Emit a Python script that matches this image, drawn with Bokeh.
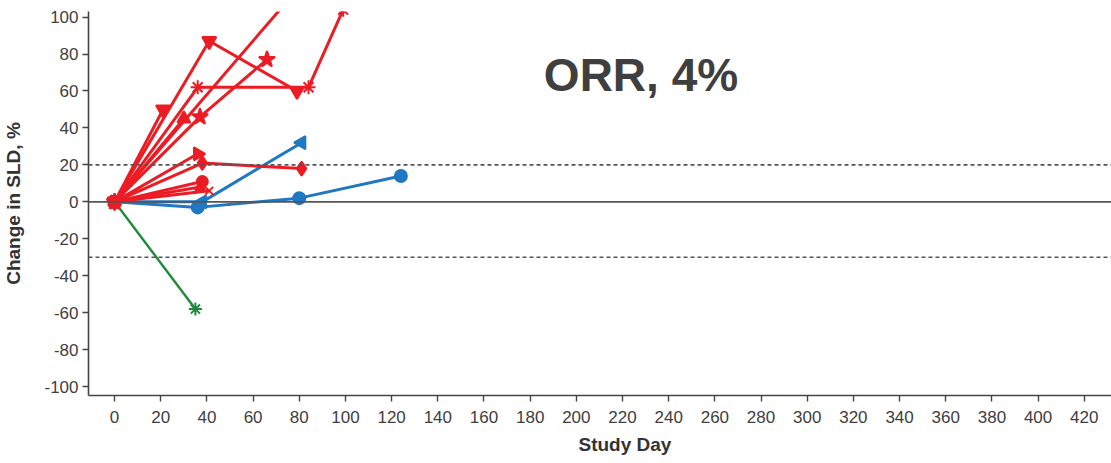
from bokeh.plotting import figure
from bokeh.models import Span, Label, FixedTicker, Range1d, Title
from bokeh.embed import file_html
from bokeh.resources import INLINE

FONT = "Liberation Sans"
RED = "#EC1C24"
BLUE = "#2077C2"
GREEN = "#1F8A3C"

# Per-patient change in sum of longest diameters (%) by study day
pt01_day = [0, 41, 79]
pt01_chg = [0, 87, 60]
pt02_day = [0, 21]
pt02_chg = [0, 50]
pt03_day = [0, 36, 84, 99]
pt03_chg = [0, 62, 62, 104]
pt04_day = [0, 37, 66]
pt04_chg = [0, 46, 77]
pt05_day = [0, 84]
pt05_chg = [0, 122]
pt06_day = [0, 30]
pt06_chg = [0, 45]
pt07_day = [0, 36]
pt07_chg = [0, 26]
pt08_day = [0, 38, 81]
pt08_chg = [0, 21, 18]
pt09_day = [0, 38]
pt09_chg = [0, 11]
pt10_day = [0, 37]
pt10_chg = [0, 8]
pt11_day = [0, 41]
pt11_chg = [0, 6]
pt12_day = [0, 38, 81]
pt12_chg = [0, 0, 32]
pt13_day = [0, 36, 80, 124]
pt13_chg = [0, -3, 2, 14]
pt14_day = [0, 35]
pt14_chg = [0, -58]

# drawn back to front
series = [
    (pt14_day, pt14_chg, GREEN, "asterisk", 13, 0),
    (pt12_day, pt12_chg, BLUE, "triangle", 13, 1.5708),
    (pt13_day, pt13_chg, BLUE, "circle", 12, 0),
    (pt01_day, pt01_chg, RED, "inverted_triangle", 14, 0),
    (pt02_day, pt02_chg, RED, "inverted_triangle", 14, 0),
    (pt03_day, pt03_chg, RED, "asterisk", 14, 0),
    (pt04_day, pt04_chg, RED, "star", 17, 0),
    (pt05_day, pt05_chg, RED, "square", 10, 0),
    (pt06_day, pt06_chg, RED, "triangle", 13, 0),
    (pt07_day, pt07_chg, RED, "triangle", 13, -1.5708),
    (pt08_day, pt08_chg, RED, "diamond", 14, 0),
    (pt09_day, pt09_chg, RED, "circle", 11, 0),
    (pt10_day, pt10_chg, RED, "triangle", 10, 0),
    (pt11_day, pt11_chg, RED, "x", 11, 0),
]

x_ticks = list(range(0, 421, 20))
y_ticks = list(range(-100, 101, 20))

p = figure(
    width=1111, height=463,
    x_range=Range1d(-11.3, 431.8), y_range=Range1d(-104.8, 103.0),
    output_backend="svg", toolbar_location=None,
    min_border_left=88, min_border_right=0, min_border_top=11, min_border_bottom=68,
)
p.outline_line_color = None
p.grid.visible = False
p.background_fill_color = "white"
p.border_fill_color = "white"

# reference lines
p.add_layout(Span(location=0, dimension="width", line_color="#555555", line_width=1.6))
for loc in (20, -30):
    p.add_layout(Span(location=loc, dimension="width", line_color="#555555",
                      line_width=1.6, line_dash="4 3"))

for days, chg, color, marker, size, ang in series:
    lw = 2.4 if color == GREEN else 3
    p.line(days, chg, line_color=color, line_width=lw)
for days, chg, color, marker, size, ang in series:
    p.scatter(days, chg, marker=marker, size=size, angle=ang,
              fill_color=color, line_color=color, line_width=2)

for ax in (p.xaxis[0], p.yaxis[0]):
    ax.axis_line_color = "#444444"
    ax.axis_line_width = 1.6
    ax.major_tick_line_color = "#444444"
    ax.major_tick_line_width = 1.4
    ax.major_tick_out = 6
    ax.major_tick_in = 0
    ax.minor_tick_line_color = None
    ax.major_label_text_font = FONT
    ax.major_label_text_font_size = "17px"
    ax.major_label_text_color = "#404040"
    ax.axis_label_text_font = FONT
    ax.axis_label_text_font_size = "19px"
    ax.axis_label_text_font_style = "bold"
    ax.axis_label_text_color = "#333333"

p.xaxis.ticker = FixedTicker(ticks=x_ticks)
p.yaxis.ticker = FixedTicker(ticks=y_ticks)
p.xaxis.major_label_overrides = {v: str(v) for v in x_ticks}
p.yaxis.major_label_overrides = {v: str(v) for v in y_ticks}
p.xaxis.major_label_standoff = 9
p.yaxis.major_label_standoff = 4
p.yaxis.axis_label = "Change in SLD, %"
p.yaxis.axis_label_standoff = 17

# x-axis title as a panel below the axis
p.add_layout(Title(text="Study Day", align="left", offset=490, standoff=13,
                   text_font=FONT, text_font_size="19px", text_font_style="bold",
                   text_color="#333333"), "below")

p.add_layout(Label(x=228, y=68.7, text="ORR, 4%", text_font=FONT,
                   text_font_size="46px", text_font_style="bold",
                   text_color="#3f3f3f", text_align="center", text_baseline="alphabetic"))

open("out.html", "w").write(file_html(p, INLINE))
